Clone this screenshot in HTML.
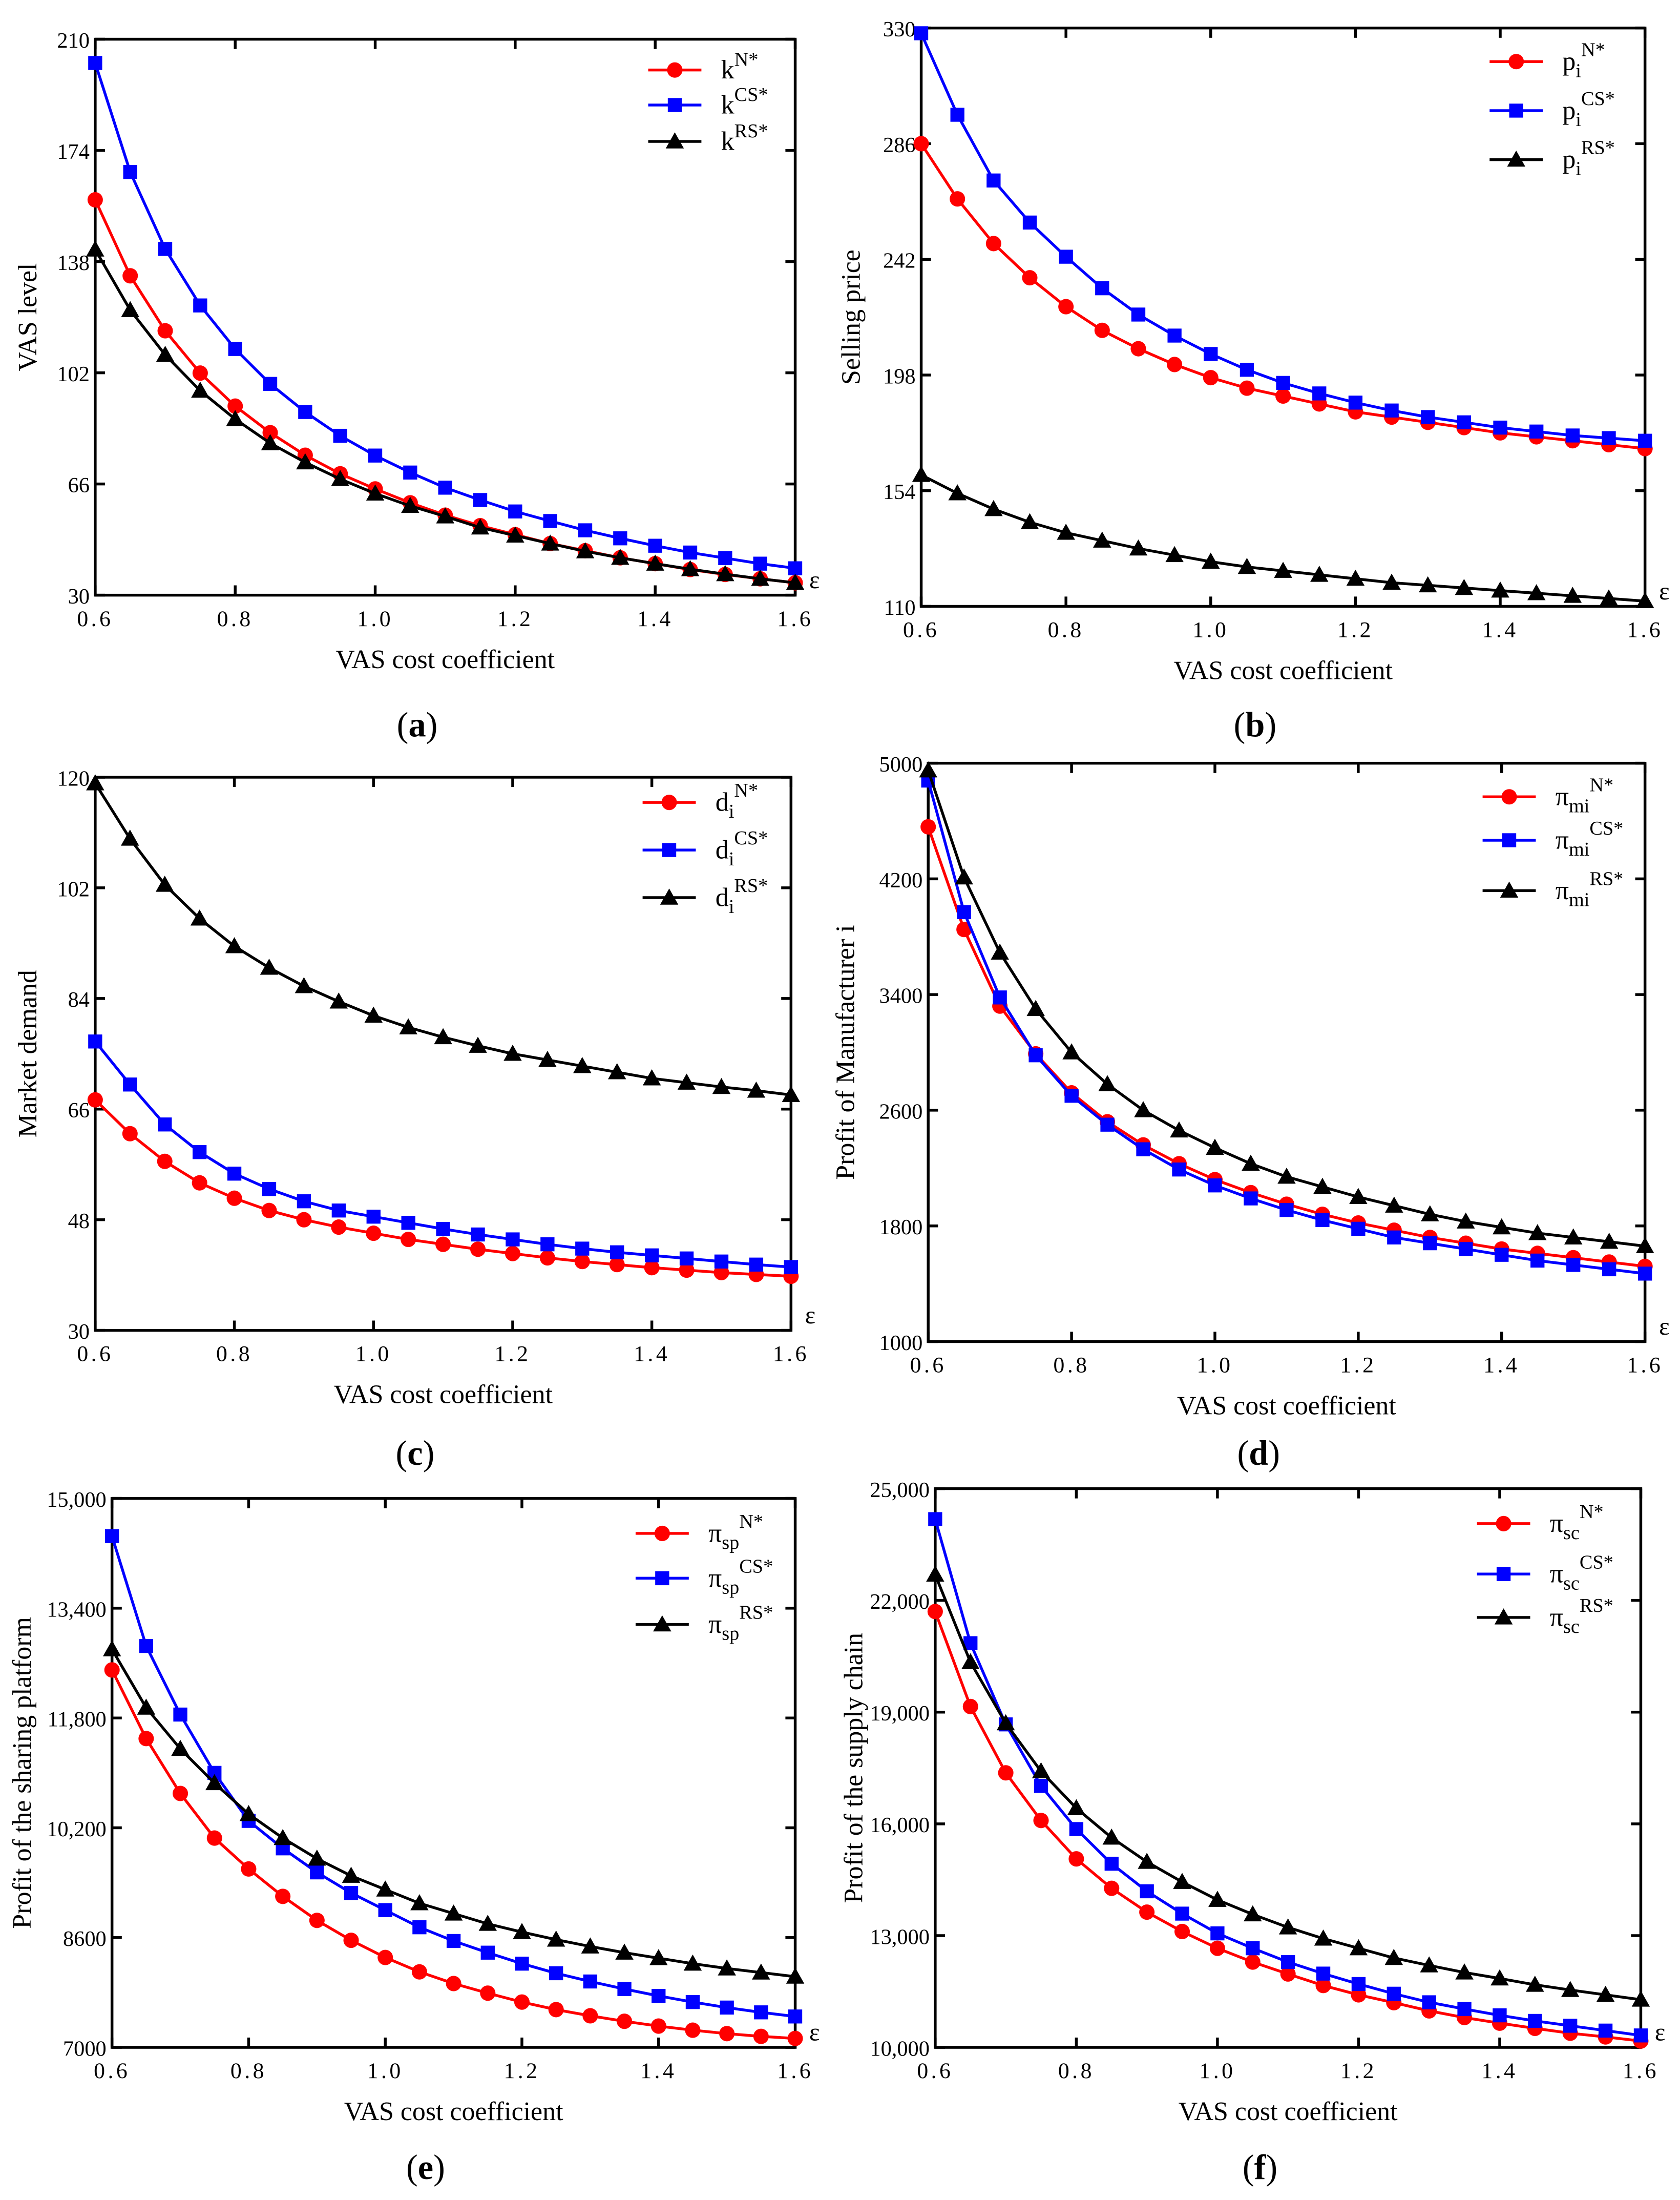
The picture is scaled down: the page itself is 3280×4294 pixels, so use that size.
<!DOCTYPE html>
<html><head><meta charset="utf-8"><style>
html,body{margin:0;padding:0;background:#fff}
svg{display:block}
text{font-family:"Liberation Serif",serif;fill:#000}
</style></head><body>
<svg id="fig" width="3280" height="4294" viewBox="0 0 1200 1571" preserveAspectRatio="none" xmlns="http://www.w3.org/2000/svg"></svg>
<script>
const xVals=[0.6,0.65,0.7,0.75,0.8,0.85,0.9,0.95,1.0,1.05,1.1,1.15,1.2,1.25,1.3,1.35,1.4,1.45,1.5,1.55,1.6];
const xTicks=[0.6,0.8,1.0,1.2,1.4,1.6];
const aN=[158,133.4,115.6,101.9,91.2,82.6,75.3,69.3,64.4,59.9,55.9,52.5,49.6,46.7,44.4,42.1,40.2,38.3,36.7,35.3,34];
const aCS=[202.3,167,142.1,123.8,109.7,98.4,89.3,81.6,75.2,69.7,64.8,60.8,57.1,54,51,48.4,46,43.8,42,40.2,38.7];
const aRS=[141.9,122.3,107.8,96.2,87,79.2,73,67.6,62.9,58.9,55.5,51.9,49.3,46.7,44.2,42.1,40.2,38.4,36.8,35.3,34];
const aTicks=[30,66,102,138,174,210];
const bN=[286,265,248,235,224,215,208,202,197,193,190,187,184,182,180,178,176,174.5,173,171.5,170];
const bCS=[328,297,272,256,243,231,221,213,206,200,195,191,187.5,184.5,182,180,178,176.5,175,174,173];
const bRS=[160,153,147,142,138,135,132,129.5,127,125,123.5,122,120.5,119,118,117,116,115,114,113,112];
const bTicks=[110,154,198,242,286,330];
const cN=[67.5,62,57.5,54,51.5,49.5,48,46.8,45.8,44.8,44,43.2,42.5,41.8,41.2,40.7,40.2,39.8,39.4,39.1,38.8];
const cCS=[77,70,63.5,59,55.5,53,51,49.5,48.5,47.5,46.5,45.6,44.8,44,43.3,42.7,42.2,41.7,41.2,40.7,40.3];
const cRS=[119,110,102.5,97,92.5,89,86,83.5,81.2,79.3,77.7,76.3,75,74,73,72,71,70.3,69.6,69,68.3];
const cTicks=[30,48,66,84,102,120];
const dN=[4560,3850,3320,2990,2720,2520,2360,2230,2120,2030,1950,1880,1820,1770,1720,1680,1640,1610,1580,1550,1520];
const dCS=[4880,3970,3380,2980,2700,2500,2330,2190,2080,1990,1910,1840,1780,1720,1680,1640,1600,1560,1530,1500,1470];
const dRS=[4950,4210,3690,3300,3000,2780,2600,2460,2340,2230,2140,2070,2000,1940,1880,1830,1790,1750,1720,1690,1660];
const dTicks=[1000,1800,2600,3400,4200,5000];
const eN=[12500,11500,10700,10050,9600,9200,8850,8560,8310,8100,7930,7790,7660,7550,7460,7380,7310,7250,7200,7160,7130];
const eCS=[14450,12850,11850,11000,10300,9900,9550,9250,9000,8750,8550,8380,8220,8080,7960,7850,7750,7660,7580,7510,7450];
const eRS=[12800,11950,11350,10850,10400,10050,9750,9500,9300,9100,8950,8800,8680,8570,8470,8380,8300,8220,8150,8090,8030];
const eTicks=[7000,8600,10200,11800,13400,15000];
const eTickLabels=["7000","8600","10,200","11,800","13,400","15,000"];
const fN=[21700,19150,17370,16090,15060,14270,13630,13110,12660,12290,11970,11660,11410,11200,10980,10800,10650,10510,10380,10280,10170];
const fCS=[24180,20850,18670,17020,15860,14930,14190,13590,13060,12660,12290,11980,11700,11440,11210,11030,10860,10710,10580,10450,10320];
const fRS=[22690,20340,18700,17410,16420,15630,14980,14440,13960,13570,13220,12920,12660,12400,12200,12010,11850,11680,11540,11410,11280];
const fTicks=[10000,13000,16000,19000,22000,25000];
const fTickLabels=["10,000","13,000","16,000","19,000","22,000","25,000"];

const NS="http://www.w3.org/2000/svg";
const svg=document.getElementById('fig');
function mk(tag,attrs,parent){const e=document.createElementNS(NS,tag);for(const k in attrs)e.setAttribute(k,attrs[k]);(parent||svg).appendChild(e);return e;}

function panel(p){
  const g=mk('g',{});
  
  
  const ymin=p.yt[0],ymax=p.yt[p.yt.length-1];
  const X=v=>p.x0+(v-0.6)/(1.0)*(p.x1-p.x0);
  const Y=v=>p.y1-(v-ymin)/(ymax-ymin)*(p.y1-p.y0);
  const box=mk('rect',{x:p.x0,y:p.y0,width:p.x1-p.x0,height:p.y1-p.y0,fill:'none',stroke:'#000','stroke-width':2},g);
  
  
  xTicks.forEach(t=>{
    const x=X(t);
    mk('line',{x1:x,x2:x,y1:p.y1,y2:p.y1-7,stroke:'#000','stroke-width':2},g);
    mk('line',{x1:x,x2:x,y1:p.y0,y2:p.y0+7,stroke:'#000','stroke-width':2},g);
    const tx=mk('text',{x:x,y:p.y1+22,'font-size':16,'text-anchor':'middle','letter-spacing':'2'},g);
    tx.textContent=t.toFixed(1);
    
    
  });
  p.yt.forEach((t,i)=>{
    const y=Y(t);
    mk('line',{x1:p.x0,x2:p.x0+7,y1:y,y2:y,stroke:'#000','stroke-width':2},g);
    mk('line',{x1:p.x1,x2:p.x1-7,y1:y,y2:y,stroke:'#000','stroke-width':2},g);
    const tx=mk('text',{x:p.x0-4,y:y+6,'font-size':15.5,'text-anchor':'end'},g);
    tx.textContent=p.yl?p.yl[i]:String(t);
    
    
  });
  const eps=mk('text',{x:p.x1+10,y:p.y1-5,'font-size':18},g);eps.textContent='ε';
  
  
  const xt=mk('text',{x:(p.x0+p.x1)/2,y:p.y1+52,'font-size':19,'text-anchor':'middle'},g);
  xt.textContent='VAS cost coefficient';
  
  
  const ycx=p.ytx, ycy=(p.y0+p.y1)/2;
  const yt=mk('text',{x:ycx,y:ycy,'font-size':19,'text-anchor':'middle',transform:`rotate(-90 ${ycx} ${ycy})`},g);
  yt.textContent=p.ytitle;
  
  
  const lab=mk('text',{x:(p.x0+p.x1)/2-20,y:p.labY,'font-size':25,'text-anchor':'middle'},g);
  lab.innerHTML='(<tspan font-weight="bold">'+p.id+'</tspan>)';
  
  
  const cols=['#ff0000','#0000ff','#000000'],names=['N*','CS*','RS*'],kinds=['circle','square','triangle'];
  p.series.forEach((s,si)=>{
    const pts=s.map((v,i)=>X(xVals[i])+','+Y(v)).join(' ');
    const pl=mk('polyline',{points:pts,fill:'none',stroke:cols[si],'stroke-width':2},g);
    
    
    s.forEach((v,i)=>marker(g,kinds[si],X(xVals[i]),Y(v),cols[si]));
    const ly=p.legY[si];
    const ll=mk('line',{x1:p.legX,x2:p.legX+38,y1:ly,y2:ly,stroke:cols[si],'stroke-width':2},g);
    
    
    marker(g,kinds[si],p.legX+19,ly,cols[si]);
    const lt=mk('text',{x:p.legX+52,y:ly+6,'font-size':19},g);
    lt.innerHTML=p.sym+(p.sub?'<tspan font-size="14" dy="5">'+p.sub+'</tspan><tspan font-size="14" dy="-15">'+names[si]+'</tspan>':'<tspan font-size="14" dy="-9">'+names[si]+'</tspan>');
    
    
  });
}
function marker(g,k,x,y,c){
  let m;
  if(k==='circle')m=mk('circle',{cx:x,cy:y,r:5.5,fill:c},g);
  else if(k==='square')m=mk('rect',{x:x-5,y:y-5,width:10,height:10,fill:c},g);
  else m=mk('polygon',{points:`${x},${y-6.5} ${x-6.5},${y+5} ${x+6.5},${y+5}`,fill:c},g);
  
  
}
panel({id:'a',x0:68,x1:568,y0:28,y1:425,yt:aTicks,series:[aN,aCS,aRS],ytitle:'VAS level',ytx:26,labY:526,legX:463,sym:'k',legY:[50,75,101]});
panel({id:'b',x0:658,x1:1175,y0:20,y1:433,yt:bTicks,series:[bN,bCS,bRS],ytitle:'Selling price',ytx:614,labY:526,legX:1064,legY:[44,79,114],sym:'p',sub:'i'});
panel({id:'c',x0:68,x1:565,y0:555,y1:950,yt:cTicks,series:[cN,cCS,cRS],ytitle:'Market demand',ytx:26,labY:1046,legX:459,legY:[573,607,641],sym:'d',sub:'i'});
panel({id:'d',x0:663,x1:1175,y0:545,y1:958,yt:dTicks,series:[dN,dCS,dRS],ytitle:'Profit of Manufacturer i',ytx:610,labY:1046,legX:1059,legY:[569,600,636],sym:'π',sub:'mi'});
panel({id:'e',x0:80,x1:568,y0:1070,y1:1462,yt:eTicks,yl:eTickLabels,series:[eN,eCS,eRS],ytitle:'Profit of the sharing platform',ytx:22,labY:1556,legX:454,legY:[1095,1127,1160],sym:'π',sub:'sp'});
panel({id:'f',x0:668,x1:1172,y0:1063,y1:1462,yt:fTicks,yl:fTickLabels,series:[fN,fCS,fRS],ytitle:'Profit of the supply chain',ytx:616,labY:1556,legX:1055,legY:[1088,1124,1155],sym:'π',sub:'sc'});
</script>
</body></html>
